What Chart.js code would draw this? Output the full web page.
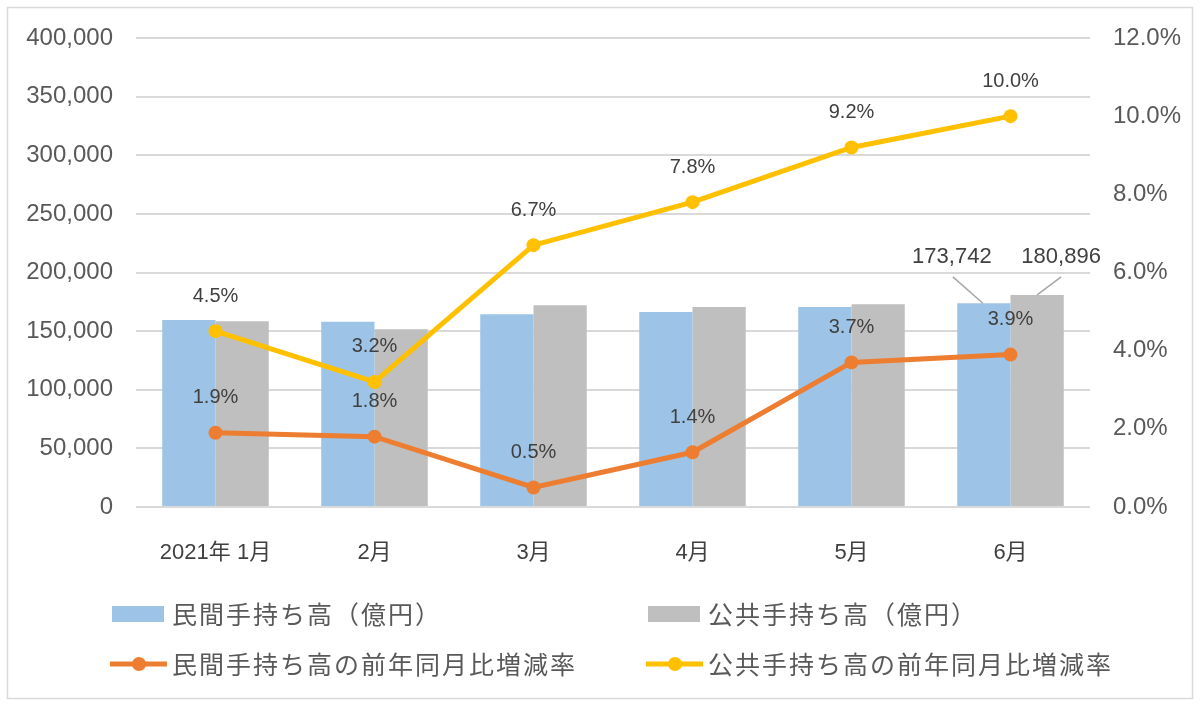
<!DOCTYPE html>
<html>
<head>
<meta charset="utf-8">
<script src="https://cdn.jsdelivr.net/npm/chart.js@4"></script>
<style>
  html, body { margin: 0; padding: 0; background: #fff; }
  #wrap { width: 1200px; height: 705px; }
</style>
</head>
<body>
<div id="wrap"><canvas id="chart" width="1200" height="705"></canvas></div>
<script>
const months = ['2021年 1月', '2月', '3月', '4月', '5月', '6月'];
const privateAmount = [159500, 158000, 164300, 166300, 170600, 173742];
const publicAmount = [158400, 151500, 172000, 170600, 172900, 180896];
const privateRate = [1.9, 1.8, 0.5, 1.4, 3.7, 3.9];
const publicRate = [4.5, 3.2, 6.7, 7.8, 9.2, 10.0];

const latinFont = '"Liberation Sans", "Noto Sans CJK JP", sans-serif';
const jpFont = '"Noto Sans CJK JP", "Liberation Sans", sans-serif';

// white background + thin frame
const framePlugin = {
    id: 'frame',
    beforeDraw(chart) {
        const ctx = chart.ctx;
        ctx.save();
        ctx.fillStyle = '#fff';
        ctx.fillRect(0, 0, chart.width, chart.height);
        ctx.strokeStyle = '#d9d9d9';
        ctx.lineWidth = 1.5;
        ctx.strokeRect(7.5, 7.5, 1185, 691);
        ctx.restore();
    }
};

// data labels for the lines and the last bar pair
const labelPlugin = {
    id: 'labels',
    afterDatasetsDraw(chart) {
        const ctx = chart.ctx;
        ctx.save();
        ctx.textAlign = 'center';
        ctx.textBaseline = 'middle';

        [2, 3].forEach(i => {
            const ds = chart.data.datasets[i];
            chart.getDatasetMeta(i).data.forEach((pt, j) => {
                ctx.font = '20px ' + latinFont;
                ctx.fillStyle = '#404040';
                ctx.fillText(ds.data[j].toFixed(1) + '%', pt.x, pt.y - 35);
            });
        });

        // value callouts on June bars
        const last = months.length - 1;
        const offsets = [{ dx: -32, ds: 0 }, { dx: 24, ds: 1 }];
        const barA = chart.getDatasetMeta(0).data[last];
        const barB = chart.getDatasetMeta(1).data[last];
        const labelY = Math.min(barA.y, barB.y) - 38;
        offsets.forEach(o => {
            const bar = chart.getDatasetMeta(o.ds).data[last];
            const val = chart.data.datasets[o.ds].data[last];
            const lx = bar.x + o.dx;
            ctx.strokeStyle = '#a6a6a6';
            ctx.lineWidth = 1.5;
            ctx.beginPath();
            ctx.moveTo(lx + (o.dx < 0 ? 1 : 0), labelY + 20);
            ctx.lineTo(bar.x + (o.dx < 0 ? -1 : 0), bar.y);
            ctx.stroke();
            ctx.font = '22px ' + latinFont;
            ctx.fillStyle = '#404040';
            ctx.fillText(val.toLocaleString('en-US'), lx, labelY);
        });
        ctx.restore();
    }
};

// legend in two columns under the plot
const legendPlugin = {
    id: 'customLegend',
    afterDraw(chart) {
        const ctx = chart.ctx;
        const ds = chart.data.datasets;
        const cols = [112, 648];
        const rows = [614, 664];
        const items = [
            { d: ds[0], col: 0, row: 0 },
            { d: ds[1], col: 1, row: 0 },
            { d: ds[2], col: 0, row: 1 },
            { d: ds[3], col: 1, row: 1 }
        ];
        ctx.save();
        items.forEach(it => {
            const x = cols[it.col];
            const y = rows[it.row];
            if (it.d.type === 'line') {
                ctx.strokeStyle = it.d.borderColor;
                ctx.lineWidth = 5;
                ctx.beginPath();
                ctx.moveTo(x - 2, y);
                ctx.lineTo(x + 55, y);
                ctx.stroke();
                ctx.fillStyle = it.d.borderColor;
                ctx.beginPath();
                ctx.arc(x + 27, y, 7, 0, Math.PI * 2);
                ctx.fill();
            } else {
                ctx.fillStyle = it.d.backgroundColor;
                ctx.fillRect(x, y - 8, 52, 16);
            }
            ctx.font = '25px ' + jpFont;
            ctx.letterSpacing = '2px';
            ctx.fillStyle = '#595959';
            ctx.textAlign = 'left';
            ctx.textBaseline = 'middle';
            ctx.fillText(it.d.label, x + 60, y);
        });
        ctx.restore();
    }
};

new Chart(document.getElementById('chart'), {
    data: {
        labels: months,
        datasets: [
            {
                type: 'bar',
                label: '民間手持ち高（億円）',
                data: privateAmount,
                backgroundColor: '#9dc3e6',
                yAxisID: 'y',
                order: 2,
                categoryPercentage: 0.67,
                barPercentage: 1.0
            },
            {
                type: 'bar',
                label: '公共手持ち高（億円）',
                data: publicAmount,
                backgroundColor: '#bfbfbf',
                yAxisID: 'y',
                order: 2,
                categoryPercentage: 0.67,
                barPercentage: 1.0
            },
            {
                type: 'line',
                label: '民間手持ち高の前年同月比増減率',
                data: privateRate,
                borderColor: '#ed7d31',
                backgroundColor: '#ed7d31',
                borderWidth: 5,
                pointRadius: 7,
                pointBorderWidth: 0,
                pointBackgroundColor: '#ed7d31',
                tension: 0,
                yAxisID: 'y1',
                order: 1
            },
            {
                type: 'line',
                label: '公共手持ち高の前年同月比増減率',
                data: publicRate,
                borderColor: '#ffc000',
                backgroundColor: '#ffc000',
                borderWidth: 5,
                pointRadius: 7,
                pointBorderWidth: 0,
                pointBackgroundColor: '#ffc000',
                tension: 0,
                yAxisID: 'y1',
                order: 0
            }
        ]
    },
    options: {
        responsive: false,
        animation: false,
        layout: { padding: { top: 38, left: 0, right: 0, bottom: 0 } },
        plugins: {
            legend: { display: false },
            tooltip: { enabled: false }
        },
        scales: {
            x: {
                grid: { display: false },
                border: { display: false },
                ticks: {
                    font: { size: 22, family: latinFont },
                    color: '#404040',
                    padding: 25,
                    maxRotation: 0,
                    autoSkip: false
                },
                afterFit(scale) { scale.height = 198; }
            },
            y: {
                position: 'left',
                min: 0,
                max: 400000,
                grid: { color: '#d9d9d9', lineWidth: 2, drawTicks: false },
                border: { display: false },
                ticks: {
                    stepSize: 50000,
                    padding: 23,
                    font: { size: 24, family: latinFont },
                    color: '#595959',
                    callback: v => v.toLocaleString('en-US')
                },
                afterFit(scale) { scale.width = 136; }
            },
            y1: {
                position: 'right',
                min: 0,
                max: 12,
                grid: { display: false, drawTicks: false },
                border: { display: false },
                ticks: {
                    stepSize: 2,
                    padding: 23,
                    font: { size: 24, family: latinFont },
                    color: '#595959',
                    callback: v => v.toFixed(1) + '%'
                },
                afterFit(scale) { scale.width = 110; }
            }
        }
    },
    plugins: [framePlugin, labelPlugin, legendPlugin]
});
</script>
</body>
</html>
